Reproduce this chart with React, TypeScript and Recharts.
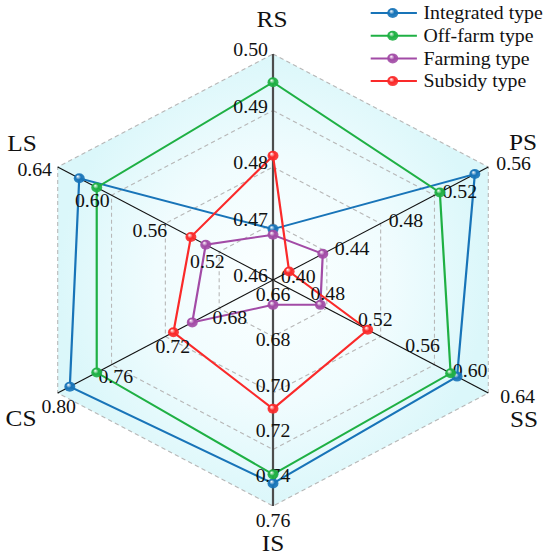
import { Legend, PolarAngleAxis, PolarRadiusAxis, Radar, RadarChart } from 'recharts';

const axes = ['RS', 'PS', 'SS', 'IS', 'CS', 'LS'];
const axisMin = [0.46, 0.4, 0.44, 0.66, 0.64, 0.48];
const axisMax = [0.5, 0.56, 0.64, 0.76, 0.8, 0.64];

const tickLabels = [
  ['0.46', '0.47', '0.48', '0.49', '0.50'],
  ['0.40', '0.44', '0.48', '0.52', '0.56'],
  ['0.48', '0.52', '0.56', '0.60', '0.64'],
  ['0.66', '0.68', '0.70', '0.72', '0.74', '0.76'],
  ['0.68', '0.72', '0.76', '0.80'],
  ['0.52', '0.56', '0.60', '0.64'],
];

const integrated = [0.469, 0.55, 0.611, 0.75, 0.791, 0.624];
const offFarm = [0.495, 0.524, 0.605, 0.746, 0.771, 0.611];
const farming = [0.468, 0.437, 0.484, 0.671, 0.7, 0.53];
const subsidy = [0.482, 0.412, 0.528, 0.717, 0.714, 0.541];

const frame = [1, 1, 1, 1, 1, 1];
const rings = [0.25, 0.5, 0.75, 1];

const series = [
  { key: 'integrated', name: 'Integrated type', color: '#1874b8', values: integrated },
  { key: 'offFarm', name: 'Off-farm type', color: '#1fb044', values: offFarm },
  { key: 'farming', name: 'Farming type', color: '#a24ba6', values: farming },
  { key: 'subsidy', name: 'Subsidy type', color: '#fa2a2a', values: subsidy },
];

// the reference is stretched a bit horizontally
const SX = 1.1;
const W = 500;
const H = 556;
const CX = 273 / SX;
const CY = 280;
const R = 226;
const FONT = "'Liberation Serif', 'Times New Roman', Times, serif";

// axis name centres, reference pixels
const namePos = [
  [272, 19],
  [523, 142],
  [524, 419],
  [273, 543],
  [21, 418],
  [22, 143],
];

const norm = (v: number, i: number) => (v - axisMin[i]) / (axisMax[i] - axisMin[i]);

const data = axes.map((axis, i) => {
  const row: Record<string, number | string> = { axis, frame: frame[i] };
  series.forEach(s => {
    row[s.key] = norm(s.values[i], i);
  });
  return row;
});

function polar(r: number, i: number) {
  const a = ((90 - 60 * i) * Math.PI) / 180;
  return { x: CX + r * Math.cos(a), y: CY - r * Math.sin(a) };
}

// label offsets in reference pixels, per axis
function labelOffset(i: number, f: number) {
  switch (i) {
    case 0:
      return { dx: -5, dy: -4, anchor: 'end' };
    case 1:
      return { dx: 8, dy: -3, anchor: 'start' };
    case 2:
      return { dx: -10 + 22 * f, dy: -12 + 16 * f, anchor: 'start' };
    case 3:
      return { dx: 0, dy: 15, anchor: 'middle' };
    case 4:
      return { dx: 14 - 13 * f, dy: 7.5 + 6.5 * f, anchor: 'middle' };
    default:
      return { dx: -8 - 15 * f, dy: 12.5 - 9.5 * f, anchor: 'middle' };
  }
}

const textStyle = { fontFamily: FONT };

function AxisTick(props: any) {
  const { payload } = props;
  const i = typeof props.index === 'number' ? props.index : axes.indexOf(payload.value);
  return (
    <g>
      <text
        x={namePos[i][0] / SX}
        y={namePos[i][1]}
        textAnchor="middle"
        dominantBaseline="central"
        style={textStyle}
        fontSize={23}
        fill="#111"
      >
        {axes[i]}
      </text>
      {tickLabels[i].map(t => {
        const f = norm(Number(t), i);
        const p = polar(R * f, i);
        const o = labelOffset(i, f);
        return (
          <text
            key={t}
            x={p.x + o.dx / SX}
            y={p.y + o.dy}
            textAnchor={o.anchor as any}
            dominantBaseline="central"
            style={textStyle}
            fontSize={18}
            fill="#111"
          >
            {t}
          </text>
        );
      })}
    </g>
  );
}

function FrameShape(props: any) {
  const { points } = props;
  const ring = (f: number) =>
    points.map((p: any) => `${CX + (p.x - CX) * f},${CY + (p.y - CY) * f}`).join(' ');
  return (
    <g>
      <polygon points={ring(1)} fill="url(#bgFill)" stroke="none" />
      {rings.map(f => (
        <polygon key={f} points={ring(f)} fill="none" stroke="#b8b8b8" strokeWidth={1} strokeDasharray="4 3" />
      ))}
      {points.map((p: any, i: number) => (
        <line
          key={i}
          x1={CX}
          y1={CY}
          x2={p.x}
          y2={p.y}
          stroke={i % 3 === 0 ? '#4d4d4d' : '#111'}
          strokeWidth={i % 3 === 0 ? 2 : 1}
        />
      ))}
    </g>
  );
}

const ball = (key: string) => (props: any) => (
  <circle key={`${key}-${props.index}`} cx={props.cx} cy={props.cy} r={5} fill={`url(#ball-${key})`} />
);

function LegendBox() {
  return (
    <svg width={170} height={95}>
      {series.map((s, i) => {
        const y = 13 + 22.7 * i;
        return (
          <g key={s.key}>
            <line x1={7} x2={49} y1={y} y2={y} stroke={s.color} strokeWidth={2} />
            <circle cx={27} cy={y} r={5} fill={`url(#ball-${s.key})`} />
            <text x={55} y={y} dominantBaseline="central" style={textStyle} fontSize={18} fill="#111">
              {s.name}
            </text>
          </g>
        );
      })}
    </svg>
  );
}

export default function App() {
  return (
    <div style={{ position: 'absolute', left: 0, top: 0, width: 550, height: 556, overflow: 'hidden', background: '#fff' }}>
      <div style={{ width: W, height: H, transform: `scaleX(${SX})`, transformOrigin: '0 0' }}>
        <RadarChart width={W} height={H} data={data} cx={CX} cy={CY} outerRadius={R} margin={{ top: 0, right: 0, bottom: 0, left: 0 }}>
          <defs>
            <radialGradient id="bgFill" cx="50%" cy="50%" r="50%">
              <stop offset="0%" stopColor="#fbffff" />
              <stop offset="55%" stopColor="#f0fcfe" />
              <stop offset="100%" stopColor="#dbf7fa" />
            </radialGradient>
            {series.map(s => (
              <radialGradient key={s.key} id={`ball-${s.key}`} cx="50%" cy="50%" r="55%" fx="35%" fy="30%">
                <stop offset="0%" stopColor="#ffffff" />
                <stop offset="45%" stopColor={s.color} />
                <stop offset="100%" stopColor={s.color} stopOpacity={0.85} />
              </radialGradient>
            ))}
          </defs>
          <Radar dataKey="frame" stroke="none" fill="none" shape={FrameShape} legendType="none" isAnimationActive={false} />
          <PolarRadiusAxis domain={[0, 1]} tick={false} axisLine={false} angle={90} />
          <PolarAngleAxis dataKey="axis" tick={AxisTick} axisLine={false} tickLine={false} />
          {series.map(s => (
            <Radar
              key={s.key}
              name={s.name}
              dataKey={s.key}
              stroke={s.color}
              strokeWidth={2}
              fill="none"
              dot={ball(s.key)}
              isAnimationActive={false}
            />
          ))}
          <Legend
            content={() => <LegendBox />}
            layout="vertical"
            align="right"
            verticalAlign="top"
            wrapperStyle={{ position: 'absolute', left: 330, top: 0, width: 170 }}
          />
        </RadarChart>
      </div>
    </div>
  );
}
